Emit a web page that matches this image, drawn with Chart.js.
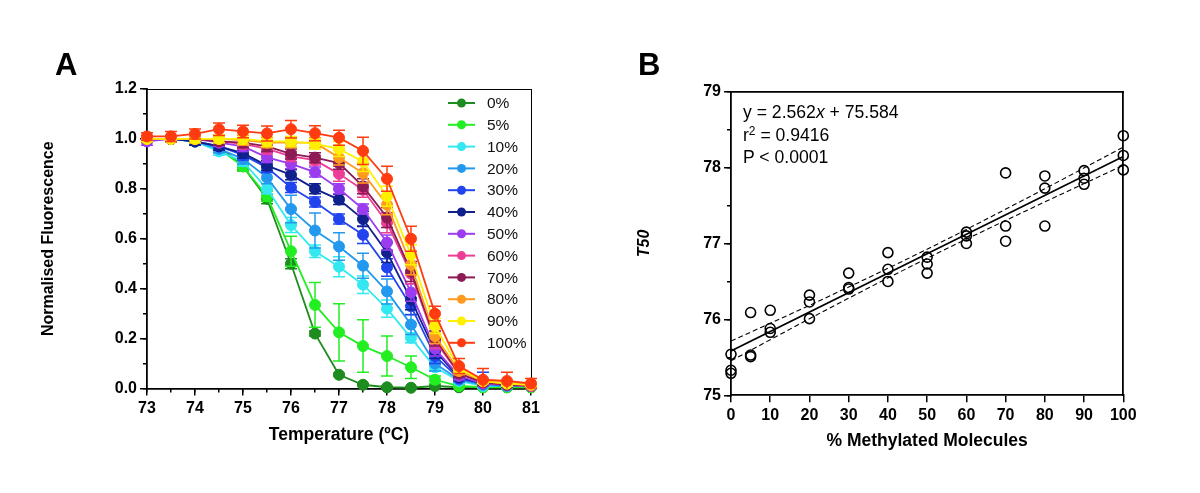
<!DOCTYPE html>
<html>
<head>
<meta charset="utf-8">
<script src="https://cdn.jsdelivr.net/npm/chart.js@4.4.1/dist/chart.umd.min.js"></script>
<style>
  html, body { margin: 0; padding: 0; background: #fff; }
  body { width: 1200px; height: 493px; position: relative; overflow: hidden;
         font-family: "Liberation Sans", Arial, sans-serif; }
  canvas { position: absolute; top: 0; }
  #chartA { left: 0; }
  #chartB { left: 600px; }
  .panel { position: absolute; font-weight: bold; font-size: 31px; line-height: 1; }
  #eq { position: absolute; left: 743px; top: 101px; font-size: 17.6px; line-height: 22.5px; color: #000; }
  #eq sup { font-size: 0.68em; line-height: 0; position: relative; top: -0.45em; vertical-align: baseline; }
</style>
</head>
<body>
<canvas id="chartA" width="600" height="493"></canvas>
<canvas id="chartB" width="600" height="493"></canvas>
<div class="panel" style="left:55px; top:49px;">A</div>
<div class="panel" style="left:638px; top:49px;">B</div>
<div id="eq">y = 2.562<i>x</i> + 75.584<br>r<sup>2</sup> = 0.9416<br>P &lt; 0.0001</div>

<script>
// ── Panel A data: melt curves ──────────────────────────────────
const temps = [73, 73.5, 74, 74.5, 75, 75.5, 76, 76.5, 77, 77.5, 78, 78.5, 79, 79.5, 80, 80.5, 81];
const xTickLabelsA = ['73', '74', '75', '76', '77', '78', '79', '80', '81'];
const yTickLabelsA = ['0.0', '0.2', '0.4', '0.6', '0.8', '1.0', '1.2'];
const seriesLabelsA = ['0%', '5%', '10%', '20%', '30%', '40%', '50%', '60%', '70%', '80%', '90%', '100%'];

const f0   = [1.00, 1.00, 0.99, 0.97, 0.89, 0.76, 0.50, 0.22, 0.055, 0.015, 0.005, 0.003, 0.01, 0.005, 0.005, 0.005, 0.005];
const f5   = [1.00, 1.00, 0.99, 0.96, 0.89, 0.77, 0.55, 0.335, 0.225, 0.17, 0.13, 0.085, 0.035, 0.01, 0.005, 0.005, 0.005];
const f10  = [1.00, 1.00, 0.99, 0.95, 0.91, 0.80, 0.655, 0.55, 0.488, 0.416, 0.32, 0.203, 0.085, 0.03, 0.01, 0.01, 0.01];
const f20  = [1.00, 1.00, 0.99, 0.96, 0.92, 0.845, 0.719, 0.633, 0.569, 0.492, 0.389, 0.256, 0.10, 0.035, 0.015, 0.01, 0.01];
const f30  = [1.00, 1.00, 0.99, 0.97, 0.936, 0.885, 0.805, 0.747, 0.679, 0.616, 0.485, 0.33, 0.13, 0.04, 0.02, 0.015, 0.01];
const f40  = [1.00, 1.00, 0.99, 0.97, 0.943, 0.893, 0.856, 0.80, 0.757, 0.679, 0.545, 0.356, 0.15, 0.045, 0.02, 0.015, 0.01];
const f50  = [0.99, 1.00, 1.00, 0.985, 0.97, 0.926, 0.90, 0.867, 0.80, 0.719, 0.585, 0.385, 0.16, 0.05, 0.02, 0.015, 0.01];
const f60  = [1.00, 1.00, 1.00, 0.99, 0.98, 0.96, 0.93, 0.915, 0.86, 0.796, 0.664, 0.46, 0.19, 0.06, 0.025, 0.015, 0.01];
const f70  = [1.00, 1.00, 1.00, 0.99, 0.985, 0.97, 0.94, 0.925, 0.903, 0.81, 0.685, 0.469, 0.20, 0.06, 0.025, 0.015, 0.015];
const f80  = [1.00, 1.00, 1.00, 1.00, 0.995, 0.985, 0.985, 0.985, 0.925, 0.863, 0.736, 0.496, 0.21, 0.07, 0.03, 0.02, 0.015];
const f90  = [1.00, 1.00, 1.00, 1.00, 1.00, 0.99, 0.99, 0.98, 0.96, 0.909, 0.77, 0.536, 0.25, 0.08, 0.03, 0.02, 0.015];
const f100 = [1.01, 1.01, 1.02, 1.039, 1.03, 1.022, 1.039, 1.023, 1.005, 0.952, 0.84, 0.60, 0.30, 0.09, 0.035, 0.03, 0.02];

// error bar half-widths (SEM)
const e0   = [0.01, 0.01, 0.01, 0.01, 0.015, 0.02, 0.02, 0.01, 0.005, 0.005, 0.003, 0.003, 0.003, 0.003, 0.003, 0.003, 0.003];
const e5   = [0.01, 0.01, 0.01, 0.015, 0.02, 0.02, 0.06, 0.09, 0.115, 0.105, 0.08, 0.045, 0.015, 0.005, 0.005, 0.005, 0.005];
const e10  = [0.01, 0.01, 0.01, 0.015, 0.02, 0.02, 0.03, 0.025, 0.04, 0.035, 0.035, 0.02, 0.015, 0.01, 0.005, 0.005, 0.005];
const e20  = [0.01, 0.01, 0.01, 0.015, 0.02, 0.025, 0.055, 0.07, 0.055, 0.05, 0.05, 0.04, 0.03, 0.01, 0.005, 0.005, 0.005];
const e30  = [0.01, 0.01, 0.015, 0.015, 0.02, 0.02, 0.02, 0.02, 0.02, 0.035, 0.035, 0.035, 0.03, 0.01, 0.045, 0.01, 0.005];
const e40  = [0.01, 0.01, 0.015, 0.015, 0.02, 0.02, 0.02, 0.02, 0.02, 0.03, 0.04, 0.04, 0.03, 0.01, 0.01, 0.005, 0.005];
const e50  = [0.015, 0.01, 0.015, 0.015, 0.02, 0.02, 0.02, 0.02, 0.02, 0.02, 0.03, 0.035, 0.03, 0.015, 0.01, 0.005, 0.005];
const e60  = [0.01, 0.01, 0.015, 0.015, 0.02, 0.02, 0.02, 0.02, 0.03, 0.03, 0.04, 0.04, 0.03, 0.015, 0.01, 0.005, 0.005];
const e70  = [0.01, 0.01, 0.015, 0.015, 0.02, 0.02, 0.02, 0.02, 0.025, 0.03, 0.04, 0.04, 0.03, 0.015, 0.01, 0.005, 0.005];
const e80  = [0.01, 0.01, 0.015, 0.015, 0.02, 0.02, 0.02, 0.02, 0.03, 0.04, 0.04, 0.04, 0.03, 0.015, 0.01, 0.01, 0.005];
const e90  = [0.01, 0.01, 0.015, 0.015, 0.02, 0.02, 0.02, 0.02, 0.03, 0.04, 0.04, 0.04, 0.03, 0.015, 0.01, 0.01, 0.005];
const e100 = [0.015, 0.02, 0.02, 0.025, 0.025, 0.03, 0.035, 0.03, 0.03, 0.055, 0.05, 0.05, 0.03, 0.03, 0.045, 0.035, 0.02];

const valuesA = [f0, f5, f10, f20, f30, f40, f50, f60, f70, f80, f90, f100];
const errorsA = [e0, e5, e10, e20, e30, e40, e50, e60, e70, e80, e90, e100];
const colorsA = ['#1e8c1e', '#22ee22', '#33e8f0', '#2299ee', '#2244ee', '#10208c',
                 '#9b3cf0', '#ee3d96', '#8c1a55', '#ff9a1f', '#fff000', '#ff3b0f'];

// ── Panel B data: T50 vs % methylated ──────────────────────────
const methX = [0, 0, 0, 5, 5, 5, 10, 10, 10, 20, 20, 20, 30, 30, 30, 40, 40, 40,
               50, 50, 50, 60, 60, 60, 70, 70, 70, 80, 80, 80, 90, 90, 90, 100, 100, 100];
const t50 = [75.54, 75.33, 75.29, 76.09, 75.53, 75.51, 76.12, 75.88, 75.83, 76.32, 76.23, 76.01,
             76.61, 76.42, 76.40, 76.88, 76.66, 76.50, 76.82, 76.73, 76.61, 77.15, 77.10, 77.00,
             77.93, 77.23, 77.03, 77.89, 77.73, 77.23, 77.96, 77.86, 77.78, 78.42, 78.16, 77.97];
const fitX = [0, 100];
const fitY = [75.584, 78.146];
const bandX = [0, 25, 50, 75, 100];
const bandHi = [75.714, 76.305, 76.925, 77.586, 78.27];
const bandLo = [75.454, 76.145, 76.805, 77.426, 78.03];
const xTickLabelsB = ['0', '10', '20', '30', '40', '50', '60', '70', '80', '90', '100'];
const yTickLabelsB = ['75', '76', '77', '78', '79'];

const FONT = '"Liberation Sans", Arial, sans-serif';


// ── Plugins ────────────────────────────────────────────────────
// error bars drawn just under each dataset, through the y scale
const errorBars = {
  id: 'errorBars',
  beforeDatasetDraw(chart, args) {
    const ds = chart.data.datasets[args.index];
    if (!ds.errors) return;
    const ys = chart.scales.y;
    const area = chart.chartArea;
    const ctx = chart.ctx;
    ctx.save();
    ctx.beginPath();
    ctx.rect(area.left - 10, area.top - 10, area.right - area.left + 20, area.bottom - area.top + 10);
    ctx.clip();
    ctx.strokeStyle = ds.borderColor;
    ctx.lineWidth = 1.5;
    args.meta.data.forEach((pt, i) => {
      const v = ds.data[i].y, e = ds.errors[i];
      const top = ys.getPixelForValue(v + e);
      const bot = ys.getPixelForValue(v - e);
      ctx.beginPath();
      ctx.moveTo(pt.x, top); ctx.lineTo(pt.x, bot);
      ctx.moveTo(pt.x - 6, top); ctx.lineTo(pt.x + 6, top);
      ctx.moveTo(pt.x - 6, bot); ctx.lineTo(pt.x + 6, bot);
      ctx.stroke();
    });
    ctx.restore();
  }
};

// legend inside the plot: line + dot + label
const lineLegend = {
  id: 'lineLegend',
  afterDraw(chart) {
    const { ctx, chartArea } = chart;
    const x0 = chartArea.right - 83;
    const y0 = chartArea.top + 14;
    ctx.save();
    chart.data.datasets.forEach((ds, i) => {
      const y = y0 + i * 21.8;
      ctx.strokeStyle = ds.borderColor;
      ctx.lineWidth = 2;
      ctx.beginPath();
      ctx.moveTo(x0, y); ctx.lineTo(x0 + 27, y);
      ctx.stroke();
      ctx.fillStyle = ds.borderColor;
      ctx.beginPath();
      ctx.arc(x0 + 13.5, y, 4.5, 0, Math.PI * 2);
      ctx.fill();
      ctx.fillStyle = '#111';
      ctx.font = '15.5px ' + FONT;
      ctx.textBaseline = 'middle';
      ctx.textAlign = 'left';
      ctx.fillText(ds.label, x0 + 39, y + 1);
    });
    ctx.restore();
  }
};

// ── Shared axis helpers ────────────────────────────────────────
const tickFont = { family: FONT, size: 16, weight: 'bold' };

function frameAxis(axis, position, width) {
  return {
    type: 'linear', axis, position,
    ticks: { display: false },
    grid: { display: false, drawTicks: false },
    border: { display: true, color: '#000', width },
    afterFit: s => { if (axis === 'x') s.height = 0; else s.width = 0; }
  };
}

function minorAxis(axis, position, min, max, step) {
  return {
    type: 'linear', axis, position, min, max, weight: 0,
    ticks: { display: false, stepSize: step, autoSkip: false },
    grid: { drawOnChartArea: false, drawTicks: true, tickLength: 4, color: '#000', lineWidth: 1.5 },
    border: { display: false },
    afterFit: s => { if (axis === 'x') s.height = 0; else s.width = 0; }
  };
}


// ── Chart A ────────────────────────────────────────────────────
const datasetsA = valuesA.map((vals, i) => ({
  label: seriesLabelsA[i],
  data: temps.map((t, j) => ({ x: t, y: vals[j] })),
  errors: errorsA[i],
  borderColor: colorsA[i],
  backgroundColor: colorsA[i],
  borderWidth: 1.8,
  pointRadius: 5.5,
  pointBorderWidth: 1,
  pointBackgroundColor: colorsA[i],
  tension: 0,
  order: valuesA.length - 1 - i,
  clip: false
}));

new Chart(document.getElementById('chartA'), {
  type: 'line',
  data: { datasets: datasetsA },
  options: {
    responsive: false,
    animation: false,
    events: [],
    layout: { padding: { left: 35.4, top: 89, right: 69, bottom: 43.5 } },
    plugins: { legend: { display: false }, tooltip: { enabled: false } },
    scales: {
      x: {
        type: 'linear', position: 'bottom', min: 73, max: 81, weight: 1,
        ticks: { stepSize: 1, autoSkip: false, maxRotation: 0, padding: 3, color: '#000', font: tickFont,
                 callback: (v, i) => xTickLabelsA[i] },
        grid: { drawOnChartArea: false, tickLength: 7, color: '#000', lineWidth: 1.5 },
        border: { display: true, color: '#000', width: 1.8 },
        title: { display: true, text: 'Temperature (ºC)', color: '#000', padding: { top: 4 },
                 font: { family: FONT, size: 17.5, weight: 'bold' } },
        afterFit: s => { s.height = 61; }
      },
      xm: minorAxis('x', 'bottom', 73, 81, 0.5),
      x2: frameAxis('x', 'top', 1),
      y: {
        type: 'linear', position: 'left', min: 0, max: 1.2, weight: 1,
        ticks: { stepSize: 0.2, autoSkip: false, padding: 3, color: '#000', font: tickFont,
                 callback: (v, i) => yTickLabelsA[i] },
        grid: { drawOnChartArea: false, tickLength: 7, color: '#000', lineWidth: 1.5 },
        border: { display: true, color: '#000', width: 1.8 },
        title: { display: true, text: 'Normalised Fluorescence', color: '#000', padding: { top: 4 },
                 font: { family: FONT, size: 16, weight: 'bold' } },
        afterFit: s => { s.width = 147 - 35.4; }
      },
      ym: minorAxis('y', 'left', 0, 1.2, 0.1),
      y2: frameAxis('y', 'right', 1)
    }
  },
  plugins: [errorBars, lineLegend]
});


// ── Chart B ────────────────────────────────────────────────────
new Chart(document.getElementById('chartB'), {
  type: 'scatter',
  data: {
    datasets: [
      {
        label: 'T50',
        data: methX.map((x, i) => ({ x, y: t50[i] })),
        pointRadius: 5,
        pointBorderWidth: 1.6,
        pointBorderColor: '#000',
        pointBackgroundColor: 'rgba(0,0,0,0)',
        clip: false,
        order: 0
      },
      {
        type: 'line', label: 'fit',
        data: fitX.map((x, i) => ({ x, y: fitY[i] })),
        borderColor: '#000', borderWidth: 1.6, pointRadius: 0, showLine: true, order: 1
      },
      {
        type: 'line', label: 'upper 95% CI',
        data: bandX.map((x, i) => ({ x, y: bandHi[i] })),
        borderColor: '#000', borderWidth: 1.1, borderDash: [5, 3], pointRadius: 0,
        showLine: true, cubicInterpolationMode: 'monotone', order: 2
      },
      {
        type: 'line', label: 'lower 95% CI',
        data: bandX.map((x, i) => ({ x, y: bandLo[i] })),
        borderColor: '#000', borderWidth: 1.1, borderDash: [5, 3], pointRadius: 0,
        showLine: true, cubicInterpolationMode: 'monotone', order: 3
      }
    ]
  },
  options: {
    responsive: false,
    animation: false,
    events: [],
    layout: { padding: { left: 31.4, top: 91.7, right: 76.7, bottom: 37.7 } },
    plugins: { legend: { display: false }, tooltip: { enabled: false } },
    scales: {
      x: {
        type: 'linear', position: 'bottom', min: 0, max: 100, weight: 1,
        ticks: { stepSize: 10, autoSkip: false, maxRotation: 0, padding: 4, color: '#000', font: tickFont,
                 callback: (v, i) => xTickLabelsB[i] },
        grid: { drawOnChartArea: false, tickLength: 7, color: '#000', lineWidth: 1.5 },
        border: { display: true, color: '#000', width: 1.8 },
        title: { display: true, text: '% Methylated Molecules', color: '#000', padding: { top: 4 },
                 font: { family: FONT, size: 17.5, weight: 'bold' } },
        afterFit: s => { s.height = 60; }
      },
      x2: frameAxis('x', 'top', 1.8),
      y: {
        type: 'linear', position: 'left', min: 75, max: 79, weight: 1,
        ticks: { stepSize: 1, autoSkip: false, padding: 3, color: '#000', font: tickFont,
                 callback: (v, i) => yTickLabelsB[i] },
        grid: { drawOnChartArea: false, tickLength: 7, color: '#000', lineWidth: 1.5 },
        border: { display: true, color: '#000', width: 1.8 },
        title: { display: true, text: 'T50', color: '#000', padding: { top: 4 },
                 font: { family: FONT, size: 16, weight: 'bold', style: 'italic' } },
        afterFit: s => { s.width = 131 - 31.4; }
      },
      ym: minorAxis('y', 'left', 75, 79, 0.5),
      y2: frameAxis('y', 'right', 1.8)
    }
  }
});
</script>
</body>
</html>
